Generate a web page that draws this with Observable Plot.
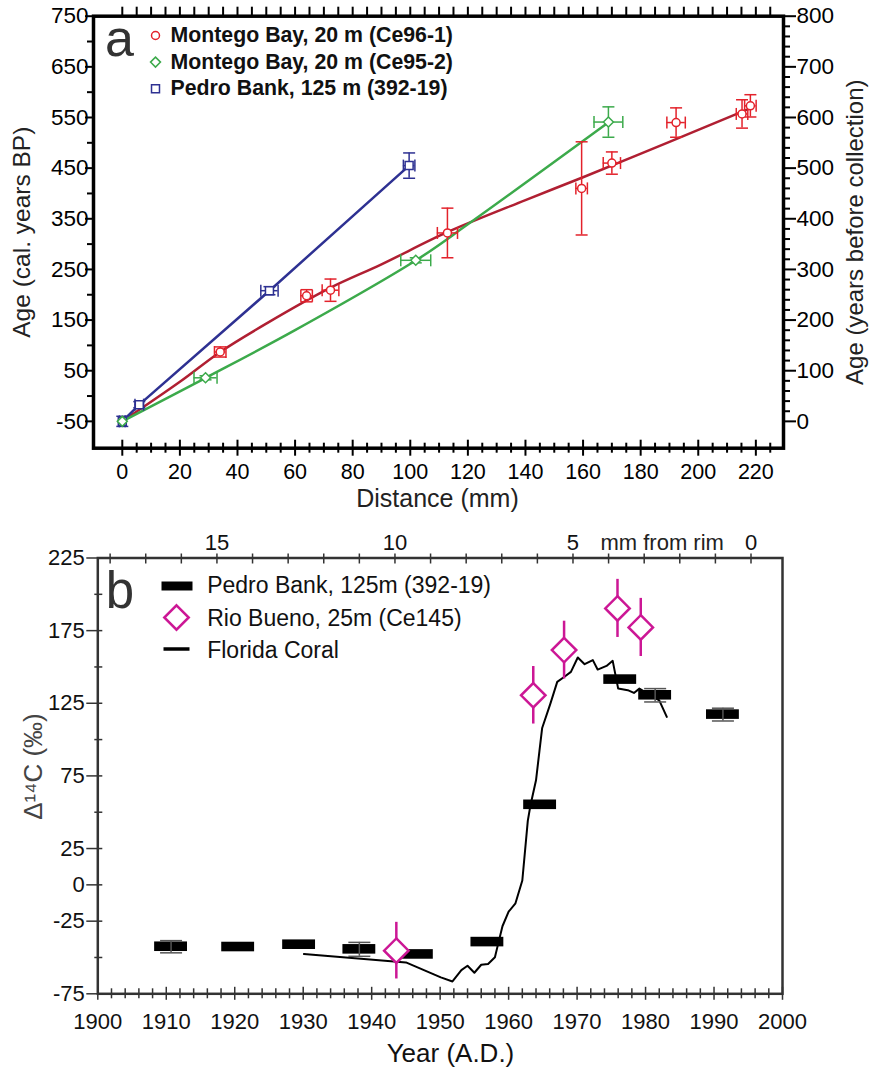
<!DOCTYPE html>
<html><head><meta charset="utf-8">
<script src="https://cdn.jsdelivr.net/npm/d3@7"></script>
<script src="https://cdn.jsdelivr.net/npm/@observablehq/plot@0.6"></script>
<style>
html,body{margin:0;padding:0;background:#fff;}
#chart{width:870px;height:1068px;position:relative;overflow:hidden;background:#fff;}
#chart svg{display:block;}
</style></head><body><div id="chart"></div>
<script>
// ---------- Panel a data (Distance mm vs Age cal. years BP) ----------
const redDist    = [0, 34, 64, 72.3, 112.9, 159.5, 170, 192.3, 215.2, 218.1];
const redAge     = [-50, 87, 198, 209, 322, 410, 460, 540, 557, 573];
const redDistErr = [0, 2, 2, 2.9, 3.5, 2, 3, 3.2, 2, 2];
const redAgeErr  = [0, 10, 12, 22, 49, 92, 22, 29, 28, 22];
const redFitDist = [0, 20, 34, 50, 72, 90, 113, 140, 160, 190, 218];
const redFitAge  = [-50, 28, 87, 143, 213, 260, 324, 387, 432, 502, 568];

const greenDist    = [0, 28.9, 101.9, 168.8];
const greenAge     = [-50, 36, 268, 541];
const greenDistErr = [0, 4, 5.2, 5];
const greenAgeErr  = [0, 4, 5, 30];
const greenFitDist = [0, 29, 60, 102, 120, 169];
const greenFitAge  = [-50, 36, 130, 268, 339, 541];

const blueDist    = [0, 5.9, 51.1, 99.6];
const blueAge     = [-50, -17, 208, 455];
const blueDistErr = [1, 1.5, 3, 2];
const blueAgeErr  = [10, 6, 8, 25];

const legendALabels = ["Montego Bay, 20 m (Ce96-1)", "Montego Bay, 20 m (Ce95-2)", "Pedro Bank, 125 m (392-19)"];

// axis ticks panel a
const xMajorA = [0, 20, 40, 60, 80, 100, 120, 140, 160, 180, 200, 220];
const xMinorA = [5, 10, 15, 25, 30, 35, 45, 50, 55, 65, 70, 75, 85, 90, 95, 105, 110, 115, 125, 130, 135, 145, 150, 155, 165, 170, 175, 185, 190, 195, 205, 210, 215, 225];
const xTopA = [0, 5, 10, 15, 20, 25, 30, 35, 40, 45, 50, 55, 60, 65, 70, 75, 80, 85, 90, 95, 100, 105, 110, 115, 120, 125, 130, 135, 140, 145, 150, 155, 160, 165, 170, 175, 180, 185, 190, 195, 200, 205, 210, 215, 220, 225];
const yMajorA = [-50, 50, 150, 250, 350, 450, 550, 650, 750];
const yMinorA = [0, 100, 200, 300, 400, 500, 600, 700];
const rightMajor = [0, 100, 200, 300, 400, 500, 600, 700, 800];
const rightMinor = [20, 40, 60, 80, 120, 140, 160, 180, 220, 240, 260, 280, 320, 340, 360, 380, 420, 440, 460, 480, 520, 540, 560, 580, 620, 640, 660, 680, 720, 740, 760, 780];
const yearsBeforeCollectionOffset = 50; // right axis = cal BP + 50

// ---------- Panel b data (Year vs Δ14C) ----------
const pbYear    = [1910.7, 1920.5, 1929.4, 1938.2, 1946.6, 1956.9, 1964.6, 1976.3, 1981.4, 1991.3];
const pbD14C    = [-42.6, -42.8, -41.2, -44.4, -47.9, -39.4, 55.1, 141.3, 130.5, 117.2];
const pbYearErr = [2.4, 2.4, 2.4, 2.4, 2.4, 2.4, 2.4, 2.4, 2.4, 2.4];
const pbBoxErr  = [3.3, 3.3, 3.3, 3.3, 3.3, 3.3, 3.3, 3.3, 3.3, 3.3];
const pbD14CErr = [4.2, 0, 0, 4.8, 0, 0, 0, 0, 4.6, 4.4];

const rbYear = [1943.6, 1963.6, 1968.1, 1975.9, 1979.3];
const rbD14C = [-45.3, 130.5, 161.6, 190.3, 177.2];
const rbErr  = [19.5, 19.8, 19.9, 20, 20];

const flYear = [1930.1, 1945.0, 1950.1, 1951.8, 1953.1, 1954.0, 1955.0, 1956.0, 1957.0, 1958.0, 1958.4, 1959.1, 1960.0, 1961.0, 1962.0, 1962.8, 1963.2, 1964.0, 1964.5, 1964.9, 1966.1, 1967.1, 1968.1, 1969.1, 1970.1, 1971.1, 1972.3, 1973.0, 1974.3, 1975.2, 1976.0, 1977.4, 1978.3, 1979.1, 1980.3, 1982.0, 1983.1];
const flD14C = [-47.6, -53.4, -63.7, -66.5, -58.7, -55.7, -60.5, -55, -54.5, -49.8, -42, -28.5, -18.5, -12.7, 3, 44, 55, 72, 92, 108, 124.8, 139.7, 143.1, 146.6, 156.5, 151.9, 154.7, 148.2, 150.7, 154.2, 135.1, 134, 132.1, 135.1, 131.7, 127, 115.6];

const legendBLabels = ["Pedro Bank, 125m (392-19)", "Rio Bueno, 25m (Ce145)", "Florida Coral"];

const yearMajor = [1900, 1910, 1920, 1930, 1940, 1950, 1960, 1970, 1980, 1990, 2000];
const yearMinor = [1902, 1904, 1906, 1908, 1912, 1914, 1916, 1918, 1922, 1924, 1926, 1928, 1932, 1934, 1936, 1938, 1942, 1944, 1946, 1948, 1952, 1954, 1956, 1958, 1962, 1964, 1966, 1968, 1972, 1974, 1976, 1978, 1982, 1984, 1986, 1988, 1992, 1994, 1996, 1998];
const yMajorB = [225, 175, 125, 75, 25, 0, -25, -75];
const yMinorB = [200, 150, 100, 50, -50];
const mmTicks = [0, 1, 2, 3, 4, 5, 6, 7, 8, 9, 10, 11, 12, 13, 14, 15, 16, 17, 18];
const mmLabels = [15, 10, 5, 0];
const rimYear = 1995.4, yearsPerMm = 5.2;
const mmToYear = mm => rimYear - mm * yearsPerMm;

// ---------- helpers ----------
const zip = (keys, ...arrays) => arrays[0].map((_, i) => Object.fromEntries(keys.map((k, j) => [k, arrays[j][i]])));
const capH = {draw(ctx, size) { const w = Math.sqrt(size / Math.PI); ctx.moveTo(-w, 0); ctx.lineTo(w, 0); }};
const capV = {draw(ctx, size) { const w = Math.sqrt(size / Math.PI); ctx.moveTo(0, -w); ctx.lineTo(0, w); }};
const rectSym = {draw(ctx) { ctx.rect(-15.5, -4.5, 31, 9); }};
const lineSym = {draw(ctx) { ctx.moveTo(-13, 0); ctx.lineTo(13, 0); }};
const FONT = "'Liberation Sans', Arial, Helvetica, sans-serif";

const RED_PT = "#e3222b", RED_LINE = "#b01f32", GREEN = "#3caa4b", BLUE = "#2e3192", MAG = "#cc1795";

const red = zip(["d", "a", "de", "ae"], redDist, redAge, redDistErr, redAgeErr);
const green = zip(["d", "a", "de", "ae"], greenDist, greenAge, greenDistErr, greenAgeErr);
const blue = zip(["d", "a", "de", "ae"], blueDist, blueAge, blueDistErr, blueAgeErr);
const redFit = zip(["d", "a"], redFitDist, redFitAge);
const greenFit = zip(["d", "a"], greenFitDist, greenFitAge);

function errMarks(data, color) {
  const wy = data.filter(d => d.ae > 0), wx = data.filter(d => d.de > 0);
  const o = {stroke: color, strokeWidth: 1.5, fill: "none"};
  return [
    Plot.ruleX(wy, {x: "d", y1: d => d.a - d.ae, y2: d => d.a + d.ae, ...o}),
    Plot.ruleY(wx, {y: "a", x1: d => d.d - d.de, x2: d => d.d + d.de, ...o}),
    Plot.dot(wy, {x: "d", y: d => d.a - d.ae, symbol: capH, r: 6, ...o}),
    Plot.dot(wy, {x: "d", y: d => d.a + d.ae, symbol: capH, r: 6, ...o}),
    Plot.dot(wx, {x: d => d.d - d.de, y: "a", symbol: capV, r: 6, ...o}),
    Plot.dot(wx, {x: d => d.d + d.de, y: "a", symbol: capV, r: 6, ...o})
  ];
}

// ---------- Panel a ----------
const legendASym = [
  {symbol: "circle", r: 4, stroke: RED_PT},
  {symbol: "diamond2", r: 4.5, stroke: GREEN},
  {symbol: "square", r: 4.5, stroke: BLUE}
];
const legendAMarks = legendALabels.flatMap((lab, i) => [
  Plot.dot([lab], {frameAnchor: "top-left", dx: 62, dy: 19.3 + i * 26.6, symbol: legendASym[i].symbol, r: legendASym[i].r, stroke: legendASym[i].stroke, fill: "white", strokeWidth: 1.5}),
  Plot.text([lab], {frameAnchor: "top-left", dx: 77, dy: 26 + i * 26.6, lineAnchor: "bottom", textAnchor: "start", fontWeight: "bold", fontSize: 21.3, fill: "#111"})
]);

const plotA = Plot.plot({
  width: 870, height: 520,
  marginLeft: 93, marginRight: 87, marginTop: 15.7, marginBottom: 72.3,
  x: {domain: [-10, 229.6], axis: null, label: null},
  y: {domain: [-103, 750], axis: null, label: null},
  style: {fontFamily: FONT, fontSize: "22px", color: "#000", background: "transparent", overflow: "visible"},
  marks: [
    Plot.line(redFit, {x: "d", y: "a", curve: "catmull-rom", stroke: RED_LINE, strokeWidth: 2.5}),
    Plot.line(blue, {x: "d", y: "a", stroke: BLUE, strokeWidth: 2.5}),
    Plot.line(greenFit, {x: "d", y: "a", curve: "catmull-rom", stroke: GREEN, strokeWidth: 2.5}),
    ...errMarks(red, RED_PT),
    ...errMarks(blue, BLUE),
    ...errMarks(green, GREEN),
    Plot.dot(red, {x: "d", y: "a", symbol: "circle", r: 4, stroke: RED_PT, fill: "white", strokeWidth: 1.5}),
    Plot.dot(blue, {x: "d", y: "a", symbol: "square", r: 4.5, stroke: BLUE, fill: "white", strokeWidth: 1.5}),
    Plot.dot(green, {x: "d", y: "a", symbol: "diamond2", r: 4.5, stroke: GREEN, fill: "white", strokeWidth: 1.5}),
    Plot.frame({stroke: "black", strokeWidth: 3.5}),
    // left axis
    Plot.axisY(yMajorA, {anchor: "left", tickSize: 8, fill: "none", strokeWidth: 2}),
    Plot.axisY(yMinorA, {anchor: "left", tickSize: 6, fill: "none", strokeWidth: 2}),
    Plot.axisY(yMajorA, {anchor: "left", tickSize: 0, tickPadding: 5, fontSize: 22.5, tickFormat: d => String(d), label: null}),
    // right axis (years before collection)
    Plot.axisY(rightMajor.map(v => v - yearsBeforeCollectionOffset), {anchor: "right", tickSize: 12, fill: "none", strokeWidth: 2}),
    Plot.axisY(rightMinor.map(v => v - yearsBeforeCollectionOffset), {anchor: "right", tickSize: 6, fill: "none", strokeWidth: 2}),
    Plot.axisY(rightMajor.map(v => v - yearsBeforeCollectionOffset), {anchor: "right", tickSize: 0, tickPadding: 13, fontSize: 22.5, tickFormat: d => String(d + yearsBeforeCollectionOffset), label: null}),
    // bottom axis
    Plot.axisX(xMajorA, {anchor: "bottom", tickSize: 16, dy: -8, fill: "none", strokeWidth: 2}),
    Plot.axisX(xMinorA, {anchor: "bottom", tickSize: 10, dy: -5, fill: "none", strokeWidth: 2}),
    Plot.axisX(xMajorA, {anchor: "bottom", tickSize: 0, tickPadding: 15.6, fontSize: 21.5, tickFormat: d => String(d), label: null}),
    // top ticks
    Plot.axisX(xTopA, {anchor: "top", tickSize: 10, fill: "none", strokeWidth: 2}),
    // labels
    Plot.text(["Distance (mm)"], {frameAnchor: "bottom", dx: -1, dy: 58.3, lineAnchor: "bottom", textAnchor: "middle", fontSize: 25, fill: "#222"}),
    Plot.text(["Age (cal. years BP)"], {frameAnchor: "left", dx: -71, dy: 0, rotate: -90, lineAnchor: "middle", textAnchor: "middle", fontSize: 24.5, fill: "#222"}),
    Plot.text(["Age (years before collection)"], {frameAnchor: "right", dx: 72, dy: 0, rotate: -90, lineAnchor: "middle", textAnchor: "middle", fontSize: 24, fill: "#222"}),
    Plot.text(["a"], {frameAnchor: "top-left", dx: 26, dy: 39.8, lineAnchor: "bottom", textAnchor: "middle", fontSize: 52, fill: "#333"}),
    ...legendAMarks
  ]
});

// ---------- Panel b ----------
const pb = zip(["yr", "ye", "v", "ve", "e"], pbYear, pbYearErr, pbD14C, pbBoxErr, pbD14CErr);
const pbE = pb.filter(d => d.e > 0);
const rb = zip(["yr", "v", "e"], rbYear, rbD14C, rbErr);
const fl = zip(["yr", "v"], flYear, flD14C);

const legendBMarks = [
  Plot.dot([legendBLabels[0]], {frameAnchor: "top-left", dx: 79.2, dy: 28, symbol: rectSym, fill: "#000", stroke: "none"}),
  Plot.dot([legendBLabels[1]], {frameAnchor: "top-left", dx: 78.7, dy: 59.5, symbol: "diamond2", r: 11, fill: "white", stroke: MAG, strokeWidth: 2.5}),
  Plot.dot([legendBLabels[2]], {frameAnchor: "top-left", dx: 78.7, dy: 91, symbol: lineSym, fill: "none", stroke: "#000", strokeWidth: 3.5}),
  ...legendBLabels.map((lab, i) => Plot.text([lab], {frameAnchor: "top-left", dx: 109.4, dy: 35.2 + i * 32.3, lineAnchor: "bottom", textAnchor: "start", fontSize: 23, fill: "#111"}))
];

const plotB = Plot.plot({
  width: 870, height: 548,
  marginLeft: 97.3, marginRight: 88, marginTop: 37.5, marginBottom: 74.7,
  x: {domain: [1900, 2000], axis: null, label: null},
  y: {domain: [-75, 225], axis: null, label: null},
  style: {fontFamily: FONT, fontSize: "22px", color: "#111", background: "transparent", overflow: "visible"},
  marks: [
    Plot.line(fl, {x: "yr", y: "v", stroke: "#000", strokeWidth: 2}),
    Plot.rect(pb, {x1: d => d.yr - d.ye, x2: d => d.yr + d.ye, y1: d => d.v - d.ve, y2: d => d.v + d.ve, fill: "#000"}),
    Plot.ruleX(pbE, {x: "yr", y1: d => d.v - d.e, y2: d => d.v + d.e, stroke: "#555", strokeWidth: 1.5}),
    Plot.dot(pbE, {x: "yr", y: d => d.v - d.e, symbol: capH, r: 11, stroke: "#555", fill: "none", strokeWidth: 1.5}),
    Plot.dot(pbE, {x: "yr", y: d => d.v + d.e, symbol: capH, r: 11, stroke: "#555", fill: "none", strokeWidth: 1.5}),
    Plot.ruleX(rb, {x: "yr", y1: d => d.v - d.e, y2: d => d.v + d.e, stroke: MAG, strokeWidth: 2.5}),
    Plot.dot(rb, {x: "yr", y: "v", symbol: "diamond2", r: 11, fill: "white", stroke: MAG, strokeWidth: 2.5}),
    Plot.frame({stroke: "#333", strokeWidth: 2.5}),
    // left axis
    Plot.axisY(yMajorB, {anchor: "left", tickSize: 16, dx: 5, fill: "none", stroke: "#333", strokeWidth: 1.5}),
    Plot.axisY(yMinorB, {anchor: "left", tickSize: 8, dx: 5, fill: "none", stroke: "#333", strokeWidth: 1.5}),
    Plot.axisY(yMajorB, {anchor: "left", tickSize: 0, tickPadding: 13, fontSize: 22, tickFormat: d => String(d), label: null}),
    // bottom axis
    Plot.axisX(yearMajor, {anchor: "bottom", tickSize: 13, dy: -6.5, fill: "none", stroke: "#333", strokeWidth: 1.5}),
    Plot.axisX(yearMinor, {anchor: "bottom", tickSize: 10, dy: -5, fill: "none", stroke: "#333", strokeWidth: 1.5}),
    Plot.axisX(yearMajor, {anchor: "bottom", tickSize: 0, tickPadding: 19.7, fontSize: 22, tickFormat: d => String(d), label: null}),
    // top axis: mm from rim
    Plot.axisX(mmTicks.map(mmToYear), {anchor: "top", tickSize: 10, dy: 5, fill: "none", stroke: "#333", strokeWidth: 1.5}),
    Plot.axisX(mmLabels.map(mmToYear), {anchor: "top", tickSize: 0, tickPadding: 8.5, fontSize: 22, tickFormat: y => String(Math.round((rimYear - y) / yearsPerMm)), label: null}),
    Plot.text(["mm from rim"], {frameAnchor: "top-right", dx: -120.3, dy: -8, lineAnchor: "bottom", textAnchor: "middle", fontSize: 22, fill: "#222"}),
    // labels
    Plot.text(["Year (A.D.)"], {frameAnchor: "bottom", dx: 10.3, dy: 67.7, lineAnchor: "bottom", textAnchor: "middle", fontSize: 26, fill: "#111"}),
    Plot.text(["Δ¹⁴C (‰)"], {frameAnchor: "left", dx: -64.3, dy: -9.4, rotate: -90, lineAnchor: "middle", textAnchor: "middle", fontSize: 26, fill: "#444"}),
    Plot.text(["b"], {frameAnchor: "top-left", dx: 22.2, dy: 49.5, lineAnchor: "bottom", textAnchor: "middle", fontSize: 51, fill: "#333"}),
    ...legendBMarks
  ]
});

const chart = document.getElementById("chart");
chart.appendChild(plotA);
chart.appendChild(plotB);
</script>
</body></html>
